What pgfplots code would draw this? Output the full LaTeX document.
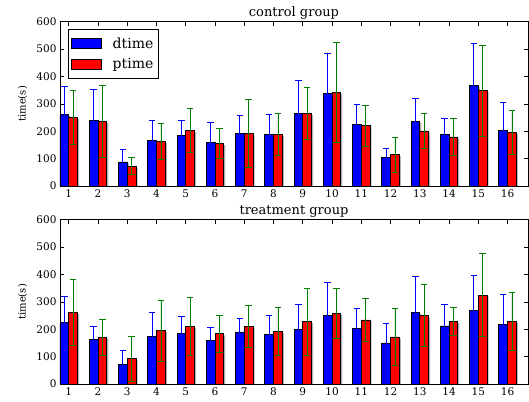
\documentclass[border=0pt]{standalone}
\usepackage{fontspec}
\setmainfont{DejaVu Serif}
\usepackage{pgfplots}
\usepackage{pgfplotstable}
\pgfplotsset{compat=1.18}

\pgfplotstableread{
x d de p pe
1 262 101 250 99
2 238 113 236 131
3 88 45 72 31
4 165 74 163 65
5 183 57 202 81
6 158 74 155 55
7 191 66 191 124
8 189 73 189 77
9 265 119 265 96
10 338 146 342 181
11 226 73 220 74
12 103 34 114 63
13 237 84 201 63
14 187 61 179 68
15 366 155 348 166
16 203 104 196 81
}\control

\pgfplotstableread{
x d de p pe
1 224 96 261 121
2 162 47 171 66
3 72 51 92 82
4 175 86 194 113
5 184 64 211 107
6 158 48 183 68
7 190 49 210 77
8 182 70 192 88
9 199 92 228 122
10 249 121 258 90
11 202 73 234 77
12 150 72 172 103
13 262 130 249 113
14 212 79 228 52
15 267 130 325 152
16 219 108 228 106
}\treatment

\definecolor{errgreen}{rgb}{0,0.5,0}

\pgfplotsset{
  panel/.style={
    scale only axis, width=468pt, height=164.3pt,
    xmin=0.7, xmax=16.7, ymin=0, ymax=600,
    xtick={1,...,16}, ytick={0,100,...,600},
    tick align=inside, major tick length=4pt,
    tick style={black, line width=0.6pt},
    axis line style={line width=0.8pt},
    ticklabel style={font=\fontsize{10.5}{12}\selectfont},
    /pgf/number format/assume math mode=true,
    ylabel={time(s)},
    ylabel style={at={(axis description cs:-0.0801,0.5)}, anchor=center, font=\fontsize{10}{11}\selectfont},
    title style={at={(0.5,1)}, anchor=base, yshift=-0.5pt, font=\fontsize{13}{15}\selectfont},
  },
  shadowbar/.style={ybar, bar width=0.3, bar shift=0pt, fill=black, fill opacity=0.3, draw=none, xshift=1.5pt, yshift=-1.5pt, forget plot},
  dbar/.style={ybar, bar width=0.3, bar shift=0pt, fill=blue, draw=black, line width=0.8pt,
    legend image code/.code={\draw[fill=blue, draw=black, line width=0.6pt] (0pt,-5pt) rectangle (30pt,5pt);},
    error bars/.cd, y dir=both, y explicit,
    error bar style={line width=0.8pt, blue},
    error mark options={rotate=90, blue, mark size=3.3pt, line width=0.8pt}},
  pbar/.style={ybar, bar width=0.3, bar shift=0pt, fill=red, draw=black, line width=0.8pt,
    legend image code/.code={\draw[fill=red, draw=black, line width=0.6pt] (0pt,-5pt) rectangle (30pt,5pt);},
    error bars/.cd, y dir=both, y explicit,
    error bar style={line width=0.8pt, errgreen},
    error mark options={rotate=90, errgreen, mark size=3.3pt, line width=0.8pt}},
}

\begin{document}
\begin{tikzpicture}
\useasboundingbox (-60pt,-215pt) rectangle (469pt,186pt);

\begin{axis}[panel, at={(0pt,0pt)}, anchor=south west, title={control group},
  legend style={at={(rel axis cs:0,1)}, anchor=north west, xshift=7.7pt, yshift=-7.3pt,
    draw=black, line width=0.8pt, font=\fontsize{14}{16}\selectfont, cells={anchor=west},
    inner xsep=3pt, inner ysep=6pt, row sep=4.6pt,
    /tikz/every odd column/.append style={column sep=9pt}},
  legend cell align=left]
\addplot[shadowbar] table[x expr=\thisrow{x}-0.15, y=d] {\control};
\addplot[dbar] table[x expr=\thisrow{x}-0.15, y=d, y error=de] {\control};
\addlegendentry{dtime}
\addplot[shadowbar] table[x expr=\thisrow{x}+0.15, y=p] {\control};
\addplot[pbar] table[x expr=\thisrow{x}+0.15, y=p, y error=pe] {\control};
\addlegendentry{ptime}
\end{axis}

\begin{axis}[panel, at={(0pt,-198pt)}, anchor=south west, title={treatment group}]
\addplot[shadowbar] table[x expr=\thisrow{x}-0.15, y=d] {\treatment};
\addplot[dbar] table[x expr=\thisrow{x}-0.15, y=d, y error=de] {\treatment};
\addplot[shadowbar] table[x expr=\thisrow{x}+0.15, y=p] {\treatment};
\addplot[pbar] table[x expr=\thisrow{x}+0.15, y=p, y error=pe] {\treatment};
\end{axis}
\end{tikzpicture}
\end{document}
